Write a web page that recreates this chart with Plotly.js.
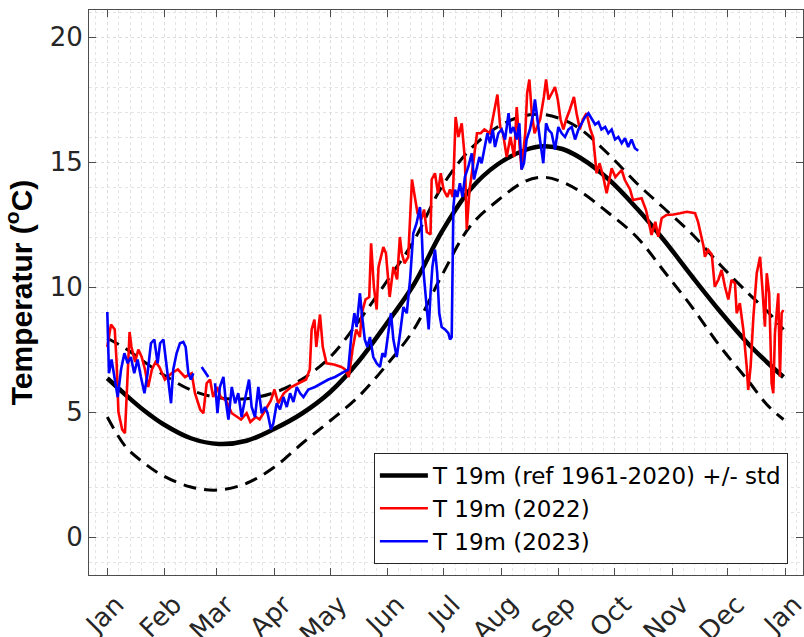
<!DOCTYPE html>
<html>
<head>
<meta charset="utf-8">
<script src="https://cdn.plot.ly/plotly-3.0.1.min.js"></script>
<style>html,body{margin:0;padding:0;background:#fff;}#chart{width:804px;height:637px;}</style>
</head>
<body>
<div id="chart"></div>
<script>
// ---- Data (x = day of year, Jan 1 = 0) ----
const monthLabels = ['Jan','Feb','Mar','Apr','May','Jun','Jul','Aug','Sep','Oct','Nov','Dec','Jan'];
const monthStartDays = [0,31,59,90,120,151,181,212,243,273,304,334,365];

const refDays  = [0,10,20,30,45,60,75,90,105,120,135,150,165,180,195,210,225,235,245,255,270,285,300,315,330,345,355,364];
const refMean  = [6.35,5.68,5.05,4.52,3.95,3.72,3.85,4.33,4.95,5.8,7.0,8.5,10.1,12.2,13.87,14.9,15.48,15.63,15.52,15.15,14.3,13.15,11.84,10.4,9.01,7.73,7.0,6.4];
const refPlusStd  = [7.95,7.53,7.0,6.5,5.88,5.57,5.53,5.78,6.32,7.2,8.6,10.18,11.85,14.0,15.48,16.4,16.86,16.9,16.7,16.3,15.3,14.15,13.13,12.1,10.88,9.75,9.05,8.3];
const refMinusStd = [4.8,3.6,2.95,2.45,2.0,1.88,2.15,2.8,3.75,4.65,5.6,6.85,8.3,10.45,12.4,13.45,14.23,14.39,14.2,13.8,12.95,12.0,10.6,9.17,7.61,6.25,5.3,4.7];

const days2022 = [0,2,4,5,6,8,9.5,10.8,12,13,15,16.7,18.5,20.3,22,24,26,28,31,34.6,38,41.8,45.4,47.2,50,51.7,53.5,55.3,57,59,61,64,67,70,72,75,77,80,82,84,88,90,92,95,99,103,107,109,110,111.5,112.5,114.5,116,118,122,126,128,130,132,134,136,137,139,141,142,143.5,145,146,148.6,150,152,154,156,157.5,158.5,160,162,164,165.5,167,169,170.5,172,174,174.6,176.4,178,179.5,181,183,184.5,186,187.5,189,190.8,192.5,193.5,195,197,199,201,203,206,208.7,210,211.5,213,215,217,219,220.4,222,223,225,226,227.2,228.5,230,233,235,236.2,237.5,239.2,241,242.5,244,245.5,247,249,251.2,252.6,254.4,256,258,260,261.5,263.4,265,267,268.8,271.5,273.5,276.9,278.6,281.4,283,287.6,290,293,295,296.6,298.4,301,304.8,308.3,312,316.4,318,321,321.7,323.5,325.4,327,329,330.7,332.5,334.3,336,337.9,338.8,340.5,342.4,344.2,345,346.3,347.8,349.6,351.4,352.7,354,355,356.3,357.6,358.5,359.4,361.2,362.1,363,363.9];
const temp2022 = [7.6,8.5,8.3,7.0,5.0,4.3,4.15,6.3,8.2,7.6,7.0,7.5,7.2,6.7,6.0,6.7,7.0,6.8,6.3,6.55,6.7,6.4,6.55,5.75,5.1,4.95,6.15,6.3,5.6,6.0,5.6,5.45,4.95,4.8,4.7,4.95,4.6,4.8,4.7,4.95,5.45,5.9,5.35,5.75,6.0,6.15,6.3,6.7,8.3,8.7,7.6,8.9,7.6,6.95,6.9,6.8,6.7,6.4,7.5,8.3,8.0,8.95,9.5,9.6,11.75,10.0,9.1,10.8,11.6,11.35,9.6,10.8,10.3,12.0,11.35,10.95,11.2,14.3,13.6,12.95,12.7,13.1,12.2,12.1,14.3,14.55,13.75,14.55,13.9,13.6,13.9,13.6,16.8,16.0,16.55,15.1,12.3,13.9,14.95,16.15,16.15,16.3,16.15,17.2,17.7,16.4,16.15,15.2,16.0,15.2,17.2,15.6,14.7,16.15,17.75,18.3,16.95,16.15,16.7,17.6,18.3,17.5,17.75,18.0,17.5,16.7,16.3,16.7,17.1,17.6,16.95,16.3,16.7,16.95,16.3,16.0,14.55,14.95,14.4,13.75,14.75,14.4,14.68,14.28,13.9,13.48,13.55,13.08,12.08,12.61,12.01,12.75,12.88,12.9,12.95,13.01,12.95,12.61,11.61,11.21,11.48,11.3,10.01,10.3,10.68,10.01,9.5,10.28,10.15,8.95,9.35,8.28,6.81,5.88,6.81,8.81,10.55,11.21,9.88,8.41,10.55,9.75,6.15,5.75,8.15,9.75,6.41,8.95,9.08];

const days2023 = [0,0.9,2.3,3.8,5.6,7.4,9.2,11,12.7,14.5,16.3,18.1,20,21.7,23.5,25.3,27.1,28.4,30.2,31.5,32.9,34.3,35.5,37.3,39.1,40.9,42.2,43.6,45,46.3,48.5,50.8,52.6,54.4,56.2,58,59.3,60.6,62.5,63.7,65.2,67,68.8,70.5,72.3,74.1,76.3,77.7,79.5,81.3,83.1,84.9,86.3,88.1,89.4,91.2,93,94.8,96.6,98.4,100.2,102,103.8,105.6,108.2,111.8,115.4,119,122.6,126.2,129.7,131.5,133,134.2,136,137,138.6,140,141.4,143.2,145,146.8,148.1,149.5,151.3,152.7,154,155.8,157.6,159.4,161.2,163,164.7,166.5,168.3,169.2,170,171,172,173,174,175,176.4,177.6,178.7,180,181.8,183.6,184.5,185.4,186.3,187.2,188.4,189.8,191.2,192.5,194.3,196.2,197.4,198.8,200.3,201.5,203.3,204.6,206,207.5,208.7,210.5,212.3,214.1,216,217.1,218.6,220.4,221.8,223,224.3,225.7,227.5,229.3,230.2,231.4,232.9,234.7,236.2,237.4,239.2,241,242.8,244.6,246.4,248.2,250,251.8,253.6,255.4,257.2,259,260.8,262.6,264.4,266,268,269.7,271.5,273.3,275.1,276.9,278.7,280.4,282.2,284,285.8];
const temp2023 = [9.0,6.55,7.1,6.4,5.6,6.7,7.35,6.95,7.2,6.55,7.1,6.4,5.75,6.55,7.75,7.9,6.95,7.75,7.9,7.1,6.3,5.35,6.7,7.35,7.75,7.8,7.6,6.55,6.3,6.55,null,6.8,6.6,6.4,null,6.15,4.95,6.0,6.4,5.5,4.7,6.0,5.35,5.75,4.8,5.5,6.3,5.2,4.8,6.0,4.95,5.2,4.95,4.3,4.55,5.35,5.1,5.6,5.2,5.75,5.4,6.0,5.75,5.6,5.9,6.0,6.15,6.3,6.4,6.55,6.7,8.15,8.95,8.4,9.75,8.95,7.9,7.6,8.0,7.2,6.95,6.8,7.35,7.2,8.15,8.95,7.9,7.2,8.15,9.2,8.95,10.3,12.15,12.55,13.2,12.3,10.8,10.0,8.95,8.3,9.75,10.8,11.5,10.55,8.95,8.4,8.3,8.15,7.9,8.0,13.2,13.9,13.6,14.15,13.6,14.4,14.8,15.35,14.3,14.8,15.2,14.95,15.6,16.15,15.75,16.3,15.6,16.15,16.3,15.9,16.95,16.15,16.4,15.9,16.55,14.7,14.95,15.9,16.3,16.95,17.5,16.7,15.9,14.95,16.55,16.3,16.15,15.5,16.4,16.15,16.0,16.3,16.4,15.9,16.3,16.55,16.8,16.95,16.7,16.5,16.6,16.3,16.4,16.15,16.3,15.9,16.0,15.75,15.95,15.6,15.9,15.55,15.45];

// ---- Minor grid positions: each month split into 5 ----
const minorX = [];
const bounds = [-31].concat(monthStartDays).concat([396]);
for (let i = 0; i < bounds.length - 1; i++) {
  const a = bounds[i], b = bounds[i+1];
  for (let k = 1; k < 5; k++) minorX.push(a + k*(b-a)/5);
}

const dashStyle = '13px,8px';
const traces = [
  {x: refDays, y: refMean, type:'scatter', mode:'lines', name:'T 19m (ref 1961-2020) +/- std',
   line:{color:'#000000', width:4.5, shape:'spline', smoothing:1}},
  {x: refDays, y: refPlusStd, type:'scatter', mode:'lines', showlegend:false,
   line:{color:'#000000', width:3, dash:dashStyle, shape:'spline', smoothing:1}},
  {x: refDays, y: refMinusStd, type:'scatter', mode:'lines', showlegend:false,
   line:{color:'#000000', width:3, dash:dashStyle, shape:'spline', smoothing:1}},
  {x: days2022, y: temp2022, type:'scatter', mode:'lines', name:'T 19m (2022)',
   line:{color:'#ff0000', width:2.6}},
  {x: days2023, y: temp2023, type:'scatter', mode:'lines', name:'T 19m (2023)', connectgaps:false,
   line:{color:'#0000ff', width:2.6}}
];

const tickFont = {family:'DejaVu Sans, Liberation Sans, sans-serif', size:26, color:'#262626'};
const layout = {
  width:804, height:637,
  margin:{l:89, r:1, t:10, b:62, pad:0},
  paper_bgcolor:'#ffffff', plot_bgcolor:'#ffffff',
  showlegend:true,
  xaxis:{
    range:[-9.85, 374.5], tickmode:'array', tickvals:monthStartDays, ticktext:monthLabels,
    tickangle:-45, tickfont:tickFont, ticklabelstandoff:3, ticklabelshift:9, ticklabeloverflow:'allow',
    ticks:'inside', ticklen:7, tickcolor:'#4d4d4d', tickwidth:1,
    showline:true, linecolor:'#4d4d4d', linewidth:1, mirror:'ticks',
    showgrid:true, gridcolor:'#dcdcdc', griddash:'dot', gridwidth:1,
    minor:{tickmode:'array', tickvals:minorX, showgrid:true, gridcolor:'#e4e4e4', griddash:'dot', gridwidth:1, ticks:''},
    zeroline:false, fixedrange:true, automargin:false
  },
  yaxis:{
    range:[-1.52, 21.08], tickmode:'array', tickvals:[0,5,10,15,20], ticktext:['0','5','10','15','20'],
    tickfont:tickFont,
    ticks:'inside', ticklen:7, tickcolor:'#4d4d4d', tickwidth:1,
    showline:true, linecolor:'#4d4d4d', linewidth:1, mirror:'ticks',
    showgrid:true, gridcolor:'#dcdcdc', griddash:'dot', gridwidth:1,
    minor:{dtick:1, tick0:0, showgrid:true, gridcolor:'#e4e4e4', griddash:'dot', gridwidth:1, ticks:''},
    zeroline:false, fixedrange:true, automargin:false,
    title:{text:'Temperatur (<sup>o</sup>C)', standoff:14,
      font:{family:'Liberation Sans, Arial, sans-serif', size:30, color:'#000000', weight:'bold'}}
  },
  legend:{
    x:0.399, y:0.216, xanchor:'left', yanchor:'top',
    bgcolor:'#ffffff', bordercolor:'#262626', borderwidth:1,
    font:{family:'DejaVu Sans, Liberation Sans, sans-serif', size:23, color:'#000000'},
    itemwidth:48, tracegroupgap:0
  }
};

Plotly.newPlot('chart', traces, layout, {staticPlot:true, displayModeBar:false});
</script>
</body>
</html>
